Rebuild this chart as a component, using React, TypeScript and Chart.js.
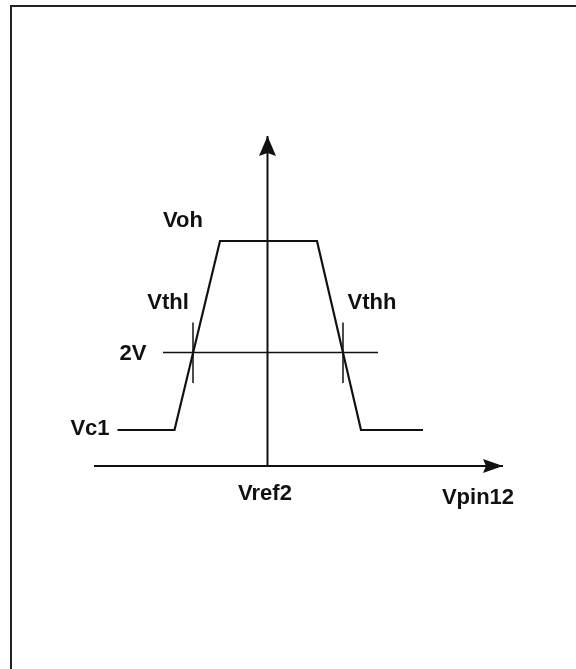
import React, { useEffect, useRef } from "react";
import { Chart, registerables } from "chart.js";

Chart.register(...registerables);

// Schematic units: Vpin12 relative to Vref2 (x), output level (y)
const transferX = [-15, -9.3, -4.75, 4.95, 9.35, 15.55];
const transferY = [3.6, 3.6, 22.5, 22.5, 3.6, 3.6];

const thresholdLevel = 11.35; // 2V
const thresholdLineX = [-10.45, 11.05];
const thresholdCrossX = [-7.45, 7.55];
const crossTickY = [8.3, 14.35];

const xAxisRange = [-17.35, 23.55];
const yAxisRange = [0, 33];

const labelTexts = ["Voh", "Vthl", "Vthh", "2V", "Vc1", "Vref2", "Vpin12"];
const labelX = [-8.45, -9.95, 10.45, -13.45, -17.75, -0.25, 21.05];
const labelY = [24.5, 16.3, 16.3, 11.2, 3.7, -2.75, -3.2];

const X_MIN = -26.75;
const X_MAX = 30.85;
const Y_MIN = -20.3;
const Y_MAX = 46.6;

const INK = "#111111";

const pts = (xs: number[], ys: number[]) => xs.map((x, i) => ({ x, y: ys[i] }));

export default function App() {
  const ref = useRef<HTMLCanvasElement | null>(null);

  useEffect(() => {
    if (!ref.current) return;

    const decor = {
      id: "decor",
      beforeDraw(chart: any) {
        const { ctx } = chart;
        ctx.save();
        ctx.fillStyle = "#ffffff";
        ctx.fillRect(0, 0, chart.width, chart.height);
        ctx.strokeStyle = "#222";
        ctx.lineWidth = 2;
        ctx.beginPath();
        ctx.moveTo(11, chart.height);
        ctx.lineTo(11, 6);
        ctx.lineTo(chart.width, 6);
        ctx.stroke();
        ctx.restore();
      },
      afterDatasetsDraw(chart: any) {
        const { ctx } = chart;
        const xs = chart.scales.x;
        const ys = chart.scales.y;
        ctx.save();
        ctx.fillStyle = INK;
        // vertical arrow head
        const vx = xs.getPixelForValue(0);
        const vy = ys.getPixelForValue(yAxisRange[1]);
        ctx.beginPath();
        ctx.moveTo(vx, vy);
        ctx.lineTo(vx + 8.5, vy + 20);
        ctx.lineTo(vx, vy + 17);
        ctx.lineTo(vx - 8.5, vy + 20);
        ctx.closePath();
        ctx.fill();
        // horizontal arrow head
        const hx = xs.getPixelForValue(xAxisRange[1]);
        const hy = ys.getPixelForValue(0);
        ctx.beginPath();
        ctx.moveTo(hx, hy);
        ctx.lineTo(hx - 20, hy - 7);
        ctx.lineTo(hx - 17, hy);
        ctx.lineTo(hx - 20, hy + 7);
        ctx.closePath();
        ctx.fill();
        // labels
        ctx.font = "bold 22px 'Liberation Sans', Arial, sans-serif";
        ctx.textAlign = "center";
        ctx.textBaseline = "middle";
        labelTexts.forEach((t, i) => {
          ctx.fillText(t, xs.getPixelForValue(labelX[i]), ys.getPixelForValue(labelY[i]));
        });
        ctx.restore();
      },
    };

    const lineDs = (data: any[], width: number) => ({
      data,
      showLine: true,
      borderColor: INK,
      borderWidth: width,
      pointRadius: 0,
      fill: false,
      tension: 0,
    });

    const chart = new Chart(ref.current, {
      type: "scatter",
      data: {
        datasets: [
          lineDs(pts(transferX, transferY), 2.2),
          lineDs(pts(thresholdLineX, [thresholdLevel, thresholdLevel]), 1.7),
          lineDs(pts([thresholdCrossX[0], thresholdCrossX[0]], crossTickY), 1.5),
          lineDs(pts([thresholdCrossX[1], thresholdCrossX[1]], crossTickY), 1.5),
          lineDs(pts(xAxisRange, [0, 0]), 2),
          lineDs(pts([0, 0], yAxisRange), 2),
        ],
      },
      options: {
        animation: false,
        responsive: false,
        maintainAspectRatio: false,
        devicePixelRatio: 1,
        layout: { padding: 0 },
        plugins: { legend: { display: false }, tooltip: { enabled: false }, title: { display: false } },
        scales: {
          x: { type: "linear", min: X_MIN, max: X_MAX, display: false },
          y: { type: "linear", min: Y_MIN, max: Y_MAX, display: false },
        },
      },
      plugins: [decor],
    } as any);

    return () => chart.destroy();
  }, []);

  return (
    <div style={{ position: "absolute", left: 0, top: 0, width: 576, height: 669, background: "#fff" }}>
      <canvas ref={ref} width={576} height={669} style={{ width: 576, height: 669, display: "block" }} />
    </div>
  );
}
